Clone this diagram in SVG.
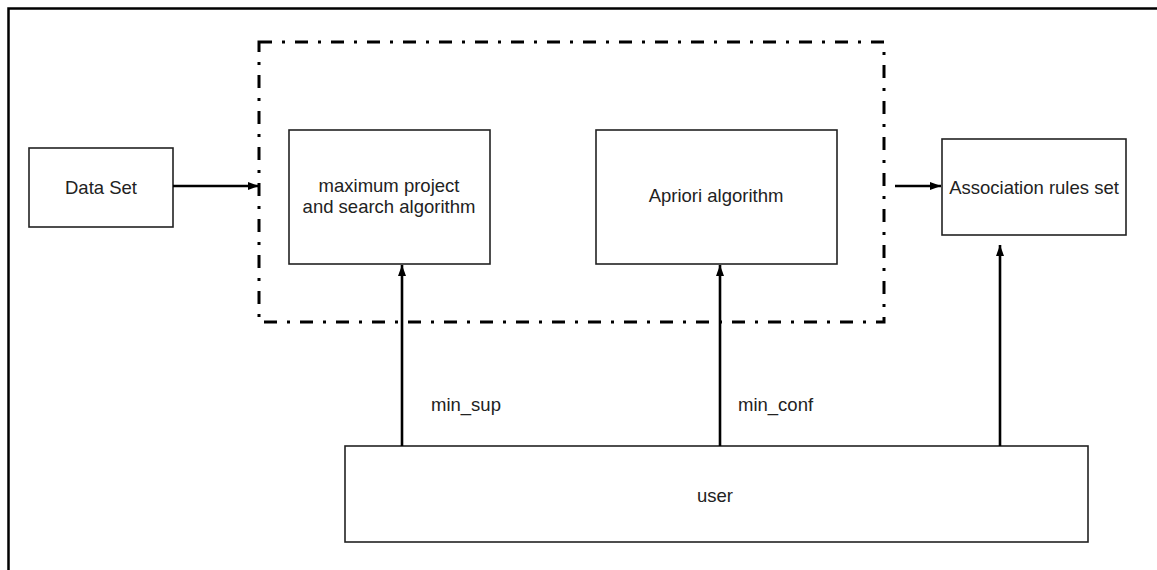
<svg xmlns="http://www.w3.org/2000/svg" width="1157" height="570" viewBox="0 0 1157 570">
<style>
.box{fill:#fff;stroke:#222;stroke-width:1.6}
.lbl{font-family:"Liberation Sans",Arial,sans-serif;font-size:18.5px;fill:#222;text-anchor:middle}
.lbl2{font-family:"Liberation Sans",Arial,sans-serif;font-size:18.5px;fill:#222}
.edge{stroke:#000;stroke-width:2.6;fill:none}
.group{fill:none;stroke:#000;stroke-width:3;stroke-dasharray:13 10 3 10}
</style>
<defs>
<marker id="ah" markerUnits="userSpaceOnUse" markerWidth="12" markerHeight="10" refX="11" refY="4" orient="auto">
<path d="M0,0 L11,4 L0,8 Z" fill="#000"/>
</marker>
</defs>
<rect width="1157" height="570" fill="#fff"/>
<rect x="8.5" y="8.5" width="1160" height="580" fill="none" stroke="#000" stroke-width="2.5"/>
<g id="group-frame">
<rect class="group" x="259" y="42" width="625" height="280"/>
</g>
<g id="node-dataset">
<rect class="box" x="29" y="148" width="144" height="79"/>
<text class="lbl" x="101" y="194">Data Set</text>
</g>
<g id="node-maxproject">
<rect class="box" x="289" y="130" width="201" height="134"/>
<text class="lbl" x="389" y="192">maximum project</text>
<text class="lbl" x="389" y="213">and search algorithm</text>
</g>
<g id="node-apriori">
<rect class="box" x="596" y="130" width="241" height="134"/>
<text class="lbl" x="716" y="202">Apriori algorithm</text>
</g>
<g id="node-assoc">
<rect class="box" x="942" y="139" width="184" height="96"/>
<text class="lbl" x="1034" y="194">Association rules set</text>
</g>
<g id="node-user">
<rect class="box" x="345" y="446" width="743" height="96"/>
<text class="lbl" x="715" y="502">user</text>
</g>
<g id="connectors">
<line class="edge" x1="173" y1="186" x2="259" y2="186" marker-end="url(#ah)"/>
<line class="edge" x1="895" y1="186" x2="941" y2="186" marker-end="url(#ah)"/>
<line class="edge" x1="402" y1="446" x2="402" y2="265" marker-end="url(#ah)"/>
<line class="edge" x1="720" y1="446" x2="720" y2="265" marker-end="url(#ah)"/>
<line class="edge" x1="1000" y1="446" x2="1000" y2="245" marker-end="url(#ah)"/>
<text class="lbl2" x="431" y="411">min_sup</text>
<text class="lbl2" x="738" y="411">min_conf</text>
</g>
</svg>
